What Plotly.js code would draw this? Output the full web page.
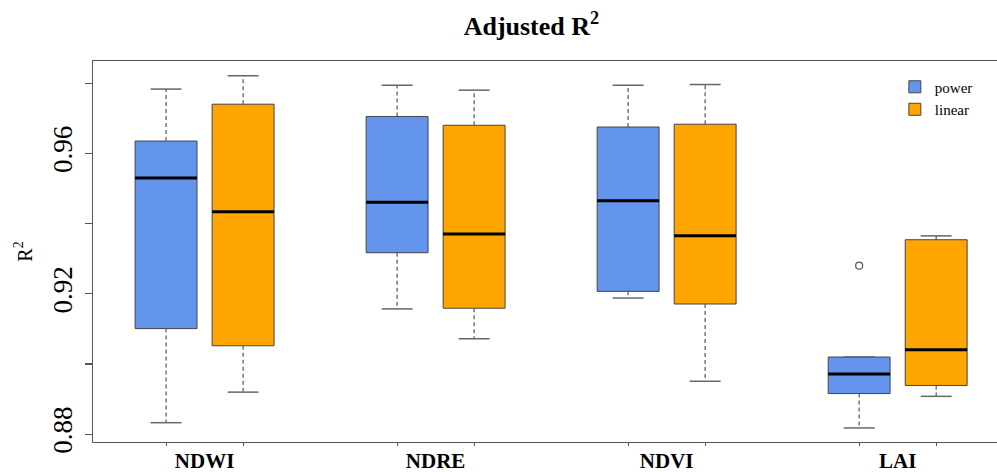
<!DOCTYPE html>
<html>
<head>
<meta charset="utf-8">
<script src="https://cdn.plot.ly/plotly-3.0.1.min.js"></script>
<style>html,body{margin:0;padding:0;background:#fff;}#chart{width:997px;height:472px;}</style>
</head>
<body>
<div id="chart"></div>
<script>
var categories = ['NDWI', 'NDRE', 'NDVI', 'LAI'];

var powerLower  = [0.8833, 0.9157, 0.9188, 0.8818];
var powerQ1     = [0.9101, 0.9317, 0.9207, 0.8916];
var powerMedian = [0.9530, 0.9461, 0.9465, 0.8972];
var powerQ3     = [0.9635, 0.9705, 0.9675, 0.9020];
var powerUpper  = [0.9783, 0.9794, 0.9794, 0.9020];
var powerOutlierCat = ['LAI'];
var powerOutlierVal = [0.9280];

var linearLower  = [0.8920, 0.9072, 0.8951, 0.8908];
var linearQ1     = [0.9052, 0.9159, 0.9171, 0.8939];
var linearMedian = [0.9434, 0.9370, 0.9365, 0.9041];
var linearQ3     = [0.9740, 0.9680, 0.9683, 0.9354];
var linearUpper  = [0.9821, 0.9780, 0.9796, 0.9365];

var yLabelVals = [0.88, 0.92, 0.96];
var yLabelText = ['0.88', '0.92', '0.96'];
var yUnlabeledTicks = [0.90, 0.94, 0.98];

// layout helpers (positions derived from category index)
var OFFSET = 0.1667, BOXW = 0.268, CAPHALF = BOXW / 4;
var catPos = categories.map(function (c, i) { return i + 1; });
var powerPos = catPos.map(function (p) { return p - OFFSET; });
var linearPos = catPos.map(function (p) { return p + OFFSET; });

function whiskers(pos, lower, q1, q3, upper) {
  var x = [], y = [];
  pos.forEach(function (p, i) {
    x.push(p, p, null, p, p, null);
    y.push(q3[i], upper[i], null, q1[i], lower[i], null);
  });
  return {x: x, y: y};
}
function caps(pos, lower, upper) {
  var x = [], y = [];
  pos.forEach(function (p, i) {
    x.push(p - CAPHALF, p + CAPHALF, null, p - CAPHALF, p + CAPHALF, null);
    y.push(upper[i], upper[i], null, lower[i], lower[i], null);
  });
  return {x: x, y: y};
}
function medians(pos, med) {
  var x = [], y = [];
  pos.forEach(function (p, i) {
    x.push(p - BOXW / 2, p + BOXW / 2, null);
    y.push(med[i], med[i], null);
  });
  return {x: x, y: y};
}

var series = [
  {name: 'power', pos: powerPos, lo: powerLower, q1: powerQ1, md: powerMedian, q3: powerQ3, hi: powerUpper, color: '#6495ED'},
  {name: 'linear', pos: linearPos, lo: linearLower, q1: linearQ1, md: linearMedian, q3: linearQ3, hi: linearUpper, color: '#FFA500'}
];

var traces = [];
series.forEach(function (s) {
  var w = whiskers(s.pos, s.lo, s.q1, s.q3, s.hi);
  traces.push({type: 'scatter', mode: 'lines', x: w.x, y: w.y, showlegend: false, hoverinfo: 'skip',
    line: {color: '#555555', width: 1.2, dash: '4px,3px'}});
  var c = caps(s.pos, s.lo, s.hi);
  traces.push({type: 'scatter', mode: 'lines', x: c.x, y: c.y, showlegend: false, hoverinfo: 'skip',
    line: {color: '#666666', width: 1.5}});
});
series.forEach(function (s) {
  traces.push({type: 'box', name: s.name, x: s.pos, q1: s.q1, median: s.md, q3: s.q3,
    lowerfence: s.q1, upperfence: s.q3, width: BOXW, whiskerwidth: 0, boxpoints: false,
    fillcolor: s.color, line: {color: '#444444', width: 1}, showlegend: true});
});
series.forEach(function (s) {
  var m = medians(s.pos, s.md);
  traces.push({type: 'scatter', mode: 'lines', x: m.x, y: m.y, showlegend: false, hoverinfo: 'skip',
    line: {color: '#000000', width: 3}});
});
traces.push({type: 'scatter', mode: 'markers', showlegend: false,
  x: powerOutlierCat.map(function (c) { return categories.indexOf(c) + 1 - OFFSET; }),
  y: powerOutlierVal,
  marker: {symbol: 'circle-open', size: 7, color: '#555555', line: {width: 1.2}}});

var serif = 'Liberation Serif, Times New Roman, serif';
var layout = {
  width: 997, height: 472,
  margin: {l: 93, r: 0, t: 61, b: 30},
  paper_bgcolor: '#ffffff', plot_bgcolor: '#ffffff',
  showlegend: true,
  title: {text: '<b>Adjusted R<sup>2</sup></b>', font: {family: serif, size: 26, color: '#000'},
    x: 0.533, xref: 'container', xanchor: 'center', y: 0.945, yref: 'container', yanchor: 'middle'},
  xaxis: {range: [0.517, 4.43], tickmode: 'array', tickvals: catPos, ticktext: categories,
    ticks: '', showgrid: false, zeroline: false, showline: true, mirror: true,
    linecolor: '#555555', linewidth: 1.2,
    tickfont: {family: serif, size: 21, color: '#000', weight: 'bold'},
    ticklabelstandoff: 0,
    minor: {tickmode: 'array', tickvals: powerPos.concat(linearPos), ticks: 'outside', ticklen: 3,
      tickcolor: '#555555', tickwidth: 1, showgrid: false}},
  yaxis: {range: [0.8778, 0.9863], tickmode: 'array', tickvals: yLabelVals, ticktext: yLabelText,
    tickangle: -90, ticks: 'outside', ticklen: 7, tickcolor: '#555555', tickwidth: 1.2,
    showgrid: false, zeroline: false, showline: true, linecolor: '#555555', linewidth: 1.2,
    tickfont: {family: serif, size: 27, color: '#000'}, ticklabelstandoff: 2,
    minor: {tickmode: 'array', tickvals: yUnlabeledTicks, ticks: 'outside', ticklen: 7,
      tickcolor: '#555555', tickwidth: 1.2, showgrid: false},
    title: {text: 'R<sup>2</sup>', font: {family: serif, size: 20, color: '#000'}, standoff: 10}},
  legend: {x: 0.887, xanchor: 'left', y: 0.975, yanchor: 'top', bgcolor: 'rgba(0,0,0,0)',
    font: {family: serif, size: 15, color: '#000'}, tracegroupgap: 0, itemwidth: 30},
  boxmode: 'overlay'
};

Plotly.newPlot('chart', traces, layout, {displayModeBar: false, staticPlot: true});
</script>
</body>
</html>
